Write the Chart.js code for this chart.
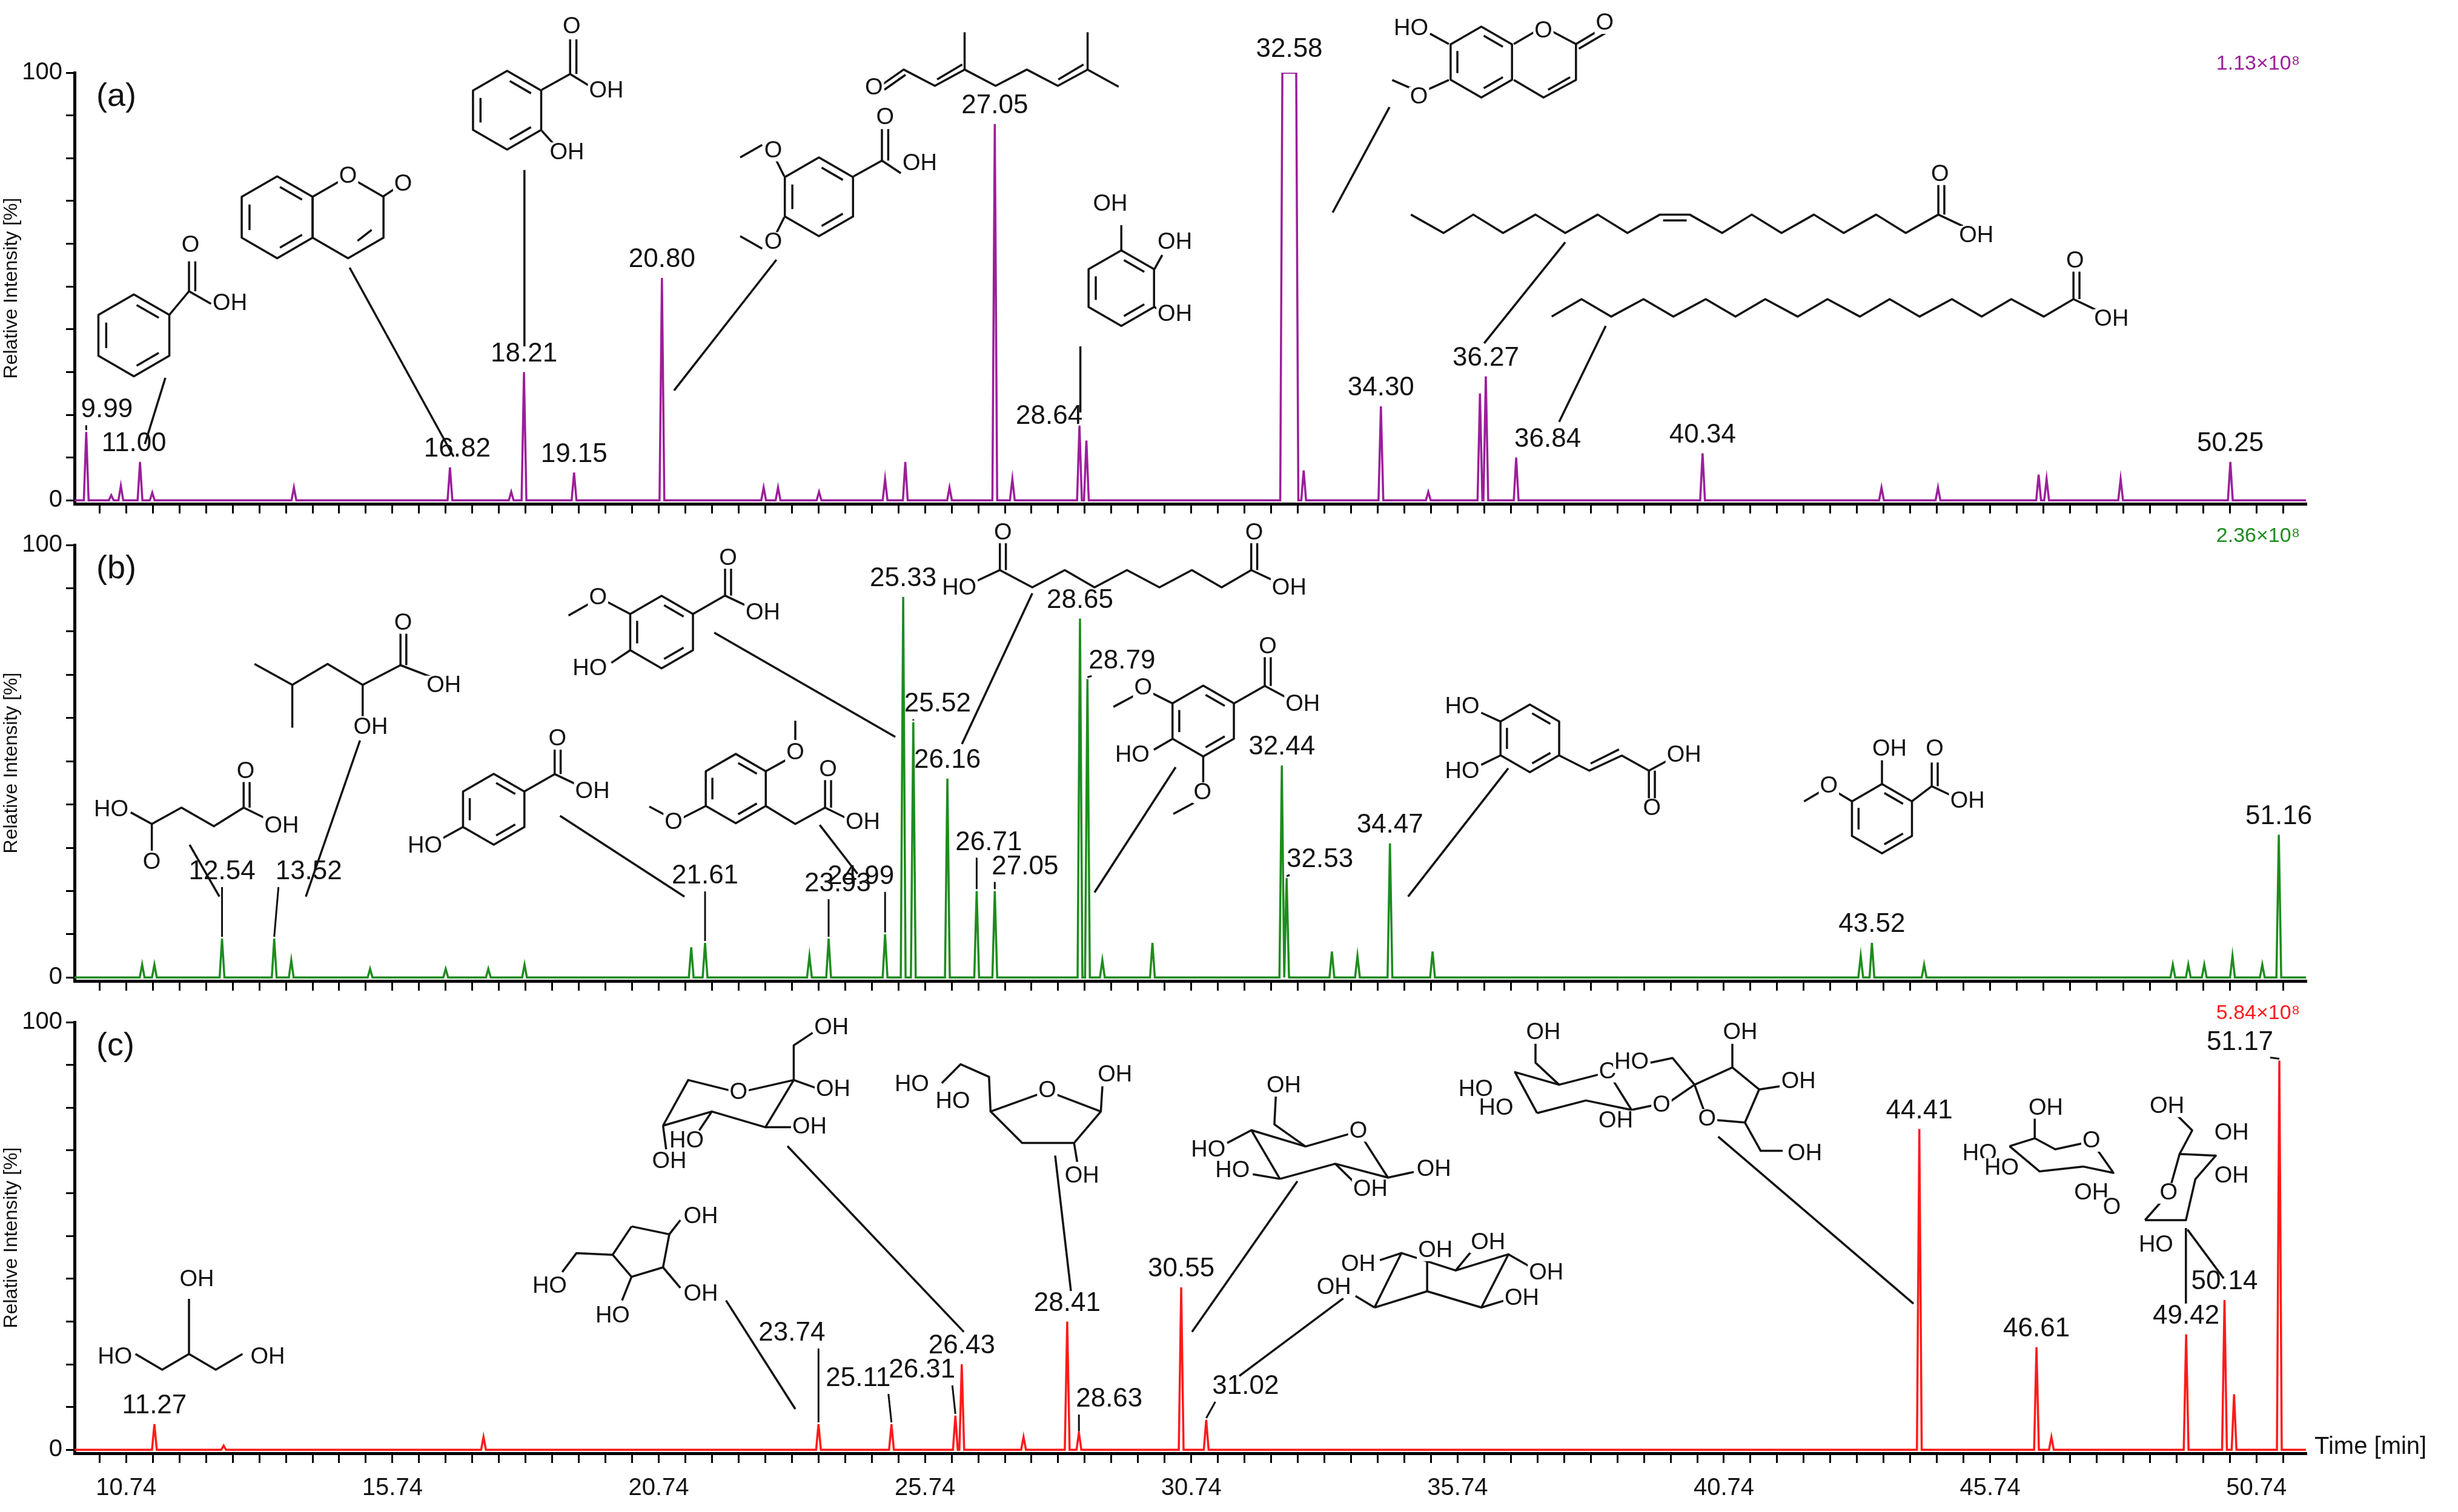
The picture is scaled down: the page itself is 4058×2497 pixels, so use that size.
<!DOCTYPE html>
<html><head><meta charset="utf-8">
<script src="https://cdn.jsdelivr.net/npm/chart.js@4/dist/chart.umd.min.js"></script>
<style>
html,body{margin:0;padding:0;background:#fff;}
canvas{position:absolute;left:0;top:0;}
</style></head><body>
<canvas id="ca" width="4058" height="2497"></canvas>
<canvas id="cb" width="4058" height="2497"></canvas>
<canvas id="cc" width="4058" height="2497"></canvas>
<script>
// ---- data ----
const tickStart = 10.74;
const tickLabelsX = ["10.74","15.74","20.74","25.74","30.74","35.74","40.74","45.74","50.74"];
const scaleFactors = ["1.13×10⁸","2.36×10⁸","5.84×10⁸"];
const panelNames = ["(a)","(b)","(c)"];

// panel (a): retention times and relative intensities
const aTimes   = [9.99,10.46,10.64,11.00,11.23,13.89,16.82,17.97,18.21,19.15,20.80,22.71,22.98,23.75,24.99,25.37,26.20,27.05,27.38,28.64,28.77,32.58,32.85,34.30,35.19,36.16,36.27,36.84,40.34,43.70,44.76,46.65,46.80,48.19,50.25];
const aHeights = [16,1.2,3.4,9,1.8,3,7.7,2,30,6.5,52,3,3,2,5,9,3,88,5,17.5,14,100,7,22,2,25,29,10,11,3,3,6,5,5,9];
const aLabels  = ["9.99","","","11.00","","","16.82","","18.21","19.15","20.80","","","","","","","27.05","","28.64","","32.58","","34.30","","","36.27","36.84","40.34","","","","","","50.25"];

// panel (b)
const bTimes   = [11.04,11.27,12.54,13.52,13.84,15.32,16.74,17.54,18.22,21.35,21.61,23.57,23.93,24.99,25.33,25.52,26.16,26.71,27.05,28.65,28.79,29.07,30.01,32.44,32.53,33.38,33.86,34.47,35.27,43.31,43.52,44.50,49.17,49.46,49.76,50.29,50.85,51.16];
const bHeights = [3,3,9,9,4,2,2,2,3,7,8,5,9,10,88,59,46,20,20,83,69,4,8,49,23,6,5,31,6,5,8,3,3,3,3,5,3,33];
const bLabels  = ["","","12.54","13.52","","","","","","","21.61","","23.93","24.99","25.33","25.52","26.16","26.71","27.05","28.65","28.79","","","32.44","32.53","","","34.47","","","43.52","","","","","","","51.16"];

// panel (c)
const cTimes   = [11.27,12.57,17.45,23.74,25.11,26.31,26.43,27.59,28.41,28.63,30.55,31.02,44.41,46.61,46.89,49.42,50.14,50.32,51.17];
const cHeights = [6,1,3,6,6,8,20,3,30,4,38,7,75,24,3,27,35,13,91];
const cLabels  = ["11.27","","","23.74","25.11","26.31","26.43","","28.41","28.63","30.55","31.02","44.41","46.61","","49.42","50.14","","51.17"];

// ---- layout / style ----
const W = 4058, H = 2497;
const plotLeft = 123, plotRight = 3807;
const XMIN = 9.77, XMAX = 51.67;
const FONT = "'Liberation Sans',Arial,sans-serif";
// label offsets [dx, dy, leader?] in px, per panel
const labelOffsets = [
  {"9.99":[34,-6,1],"11.00":[-10,0],"16.82":[12,0],"28.64":[-50,15],"36.84":[52,0],"32.58":[0,-8]},
  {"12.54":[0,-80,1],"13.52":[57,-80,1],"21.61":[0,-80,1],"23.93":[15,-60,1],"24.99":[-40,-65,1],"25.52":[40,0,1],"26.71":[20,-50,1],"27.05":[50,-10,1],"28.79":[57,0,1],"32.53":[55,0,1]},
  {"23.74":[-44,-120,1],"25.11":[-55,-45,1],"26.31":[-55,-45,1],"28.63":[50,-25,1],"31.02":[65,-25,1],"51.17":[-65,0,1]}
];
const panels = [
  {id:"ca", top:120, bottom:832, color:"#9b1f9b", times:aTimes, heights:aHeights, labels:aLabels},
  {id:"cb", top:900, bottom:1620, color:"#1e8c1e", times:bTimes, heights:bHeights, labels:bLabels},
  {id:"cc", top:1688, bottom:2400, color:"#ff1a1a", times:cTimes, heights:cHeights, labels:cLabels}
];

// ---- decorative chemical structure sketches (screen coords, scaled by S) ----
const S = 2.6;
const structures = [
 // (a)
 [['hex',85,213,26,-90,1],['l',[107.5,200,120,185]],['l',[120,185,120,166]],['l',[124,185,124,166]],['l',[120,185,134,193]],['t','O',121,156],['t','OH',146,193],['l',[105,240,92,282]],
  ['hex',176,138,26,-90,1],['hex',221,138,26,-90,0],['l',[227,153,236,146]],['t','O',221,112],['l',[243,125,252,119]],['t','O',256,117],['l',[222,170,288,290]],
  ['hex',322,70,25,-90,1],['l',[344,57,362,47]],['l',[362,47,362,25]],['l',[366,47,366,25]],['l',[362,47,375,55]],['t','O',363,17],['t','OH',385,58],['l',[344,83,352,92]],['t','OH',360,97],['l',[333,108,333,220]],
  ['hex',520,125,25,-90,1],['l',[498,112,493,102]],['t','O',491,96],['l',[484,92,470,100]],['l',[498,138,493,148]],['t','O',491,154],['l',[484,158,470,150]],['l',[542,112,560,102]],['l',[560,102,560,82]],['l',[564,102,564,82]],['l',[560,102,572,110]],['t','O',562,75],['t','OH',584,104],['l',[493,165,428,248]],
  ['t','O',554.9,55.8],['l',[560.1,53.8,573.8,44.2,593.6,54.5,612.5,44.2,632.2,54.5,652,44.2,671.7,54.5,690.6,44.2,710.3,55.1]],['l',[561.5,57,575,47.5]],['l',[595,50.5,611,41]],['l',[672,50.5,688,41]],['l',[612.5,44.2,612.5,20.5]],['l',[690.6,44.2,690.6,20.5]],
  ['hex',712,183,24,-90,1],['l',[712,159,712,143]],['t','OH',705,130],['l',[733,171,738,162]],['t','OH',746,154],['l',[733,195,738,198]],['t','OH',746,200],['l',[686,220,686,262]],
  ['hex',940.6,39.4,22.5,-90,1],['p',[961.2,28,980,17,1000.7,28,1000.7,50.8,980.1,61.9,961.2,50.8]],['l',[983,57,997,49]],['l',[1000.7,28,1017.9,17.7]],['l',[1002.5,31,1019.5,21]],['t','O',980,20],['t','O',1019,15],['l',[920,28,908,21.4]],['t','HO',896,18.4],['l',[920,50.8,904,58]],['t','O',901,61.9],['l',[898,57,884,50.8]],['l',[882.3,68,846.2,135]],
  ['l',[895.9,136.3,916.6,148,935.5,136.3,954.4,148,975,136.3,993.9,148,1014.5,136.3,1033.4,148,1054,136.3,1072.9,136.3,1093.5,148,1112.3,136.3,1131.2,148,1151.8,136.3,1170.7,148,1191.3,136.3,1210.1,148,1230.8,136.3,1230.8,116.4]],['l',[1234.6,136.3,1234.6,116.4]],['l',[1056,140,1071,140]],['l',[1230.8,136.3,1246.3,143.6]],['t','O',1231.8,111],['t','OH',1254.9,150],['l',[993.9,153.9,942.4,218]],
  ['l',[985.3,201.1,1004.2,190,1023,201.1,1043.6,190,1062.5,201.1,1083.1,190,1102,201.1,1120.9,190,1141.5,201.1,1160.4,190,1181,201.1,1199.9,190,1218.8,201.1,1239.4,190,1258.3,201.1,1277.1,190,1297.8,201.1,1316.6,190,1316.6,171]],['l',[1320.4,190,1320.4,171]],['l',[1316.6,190,1330.4,196.6]],['t','O',1317.6,166],['t','OH',1340.7,203],['l',[1019.6,207,990,268]]],
 // (b)
 [['l',[83,516,96.4,523.4,115.2,513,135.8,524.8,154.7,513,170,520.5]],['l',[96.4,523.4,96.4,540.3]],['l',[154.7,513,154.7,496]],['l',[158.5,513,158.5,496]],['t','HO',70.6,514.5],['t','O',96.4,547.7],['t','O',156,490.2],['t','OH',178.8,524.8],['l',[120.4,536.6,139.3,569.5]],
  ['l',[161.6,421.7,185.6,435,208,421.7,230.3,435,254.3,422.5,273.2,429.8]],['l',[185.6,435,185.6,462.2]],['l',[230.3,435,230.3,454.9]],['l',[254.3,422.5,254.3,401.8]],['l',[258,422.5,258,401.8]],['t','OH',235.4,462.2],['t','O',256,396],['t','OH',281.8,435.7],['l',[228.6,470.3,194.2,569.5]],
  ['hex',313.5,514,22.5,-90,1],['l',[333,502.7,352.2,491.7,352.2,475.5]],['l',[356,491.7,356,475.5]],['l',[352.2,491.7,367.6,499]],['t','O',354,469.6],['t','OH',376.2,502.7],['l',[294,525.3,280,533]],['t','HO',269.8,537.4],['l',[355.6,518.2,434.6,569.5]],
  ['hex',420.1,401.5,23,-90,1],['l',[440,390,460.4,378.3,460.4,357.6]],['l',[464.2,378.3,464.2,357.6]],['l',[460.4,378.3,475.8,385.6]],['t','O',462.3,354.7],['t','OH',484.4,389.3],['l',[400.2,390,385,382]],['t','O',379.7,379.7],['l',[375,383,361,391]],['l',[400.2,413,388.2,421]],['t','HO',374.5,424.7],['l',[453.5,401.8,568.5,468.1]],
  ['hex',467.2,500.9,22,-90,1],['l',[486.2,489.9,501.6,481.4]],['t','O',505,478.4],['l',[505,470,505,457.8]],['l',[448.2,511.9,432.9,519.7]],['t','O',427.7,522.6],['l',[423,518,412.3,512.3]],['l',[486.2,511.9,505,523.4,523.9,513,523.9,491.7]],['l',[527.7,513,527.7,491.7]],['l',[523.9,513,537.6,519.7]],['t','O',525.8,489],['t','OH',547.9,522.6],['l',[520.5,524,544.5,555]],
  ['l',[618,370,634.9,362.1,655.5,373.1,676.1,362.1,695,373.1,715.6,362.1,736.2,373.1,756.8,362.1,775.7,373.1,794.5,362.1,810,369.4]],['l',[634.9,362.1,634.9,344.4]],['l',[638.7,362.1,638.7,344.4]],['l',[794.5,362.1,794.5,344.4]],['l',[798.3,362.1,798.3,344.4]],['t','HO',609.1,373.8],['t','O',636.8,338.5],['t','O',796.4,338.5],['t','OH',818.6,373.8],['l',[655.5,376.8,610.8,472.6]],
  ['hex',764,458,22.5,-90,1],['l',[783.5,446.8,803.1,435.7,803.1,415.1]],['l',[806.9,435.7,806.9,415.1]],['l',[803.1,435.7,816.9,443.1]],['t','O',805,410.9],['t','OH',827.2,447.5],['l',[744.5,446.8,729,439]],['t','O',725.9,437.2],['l',[720,442,707,449]],['l',[744.5,469.3,732.7,476.2]],['t','HO',719,480],['l',[764,480.5,764,497.6]],['t','O',763.6,503.5],['l',[758,510,745,517]],['l',[746.5,487.3,695,566.8]],
  ['hex',971.4,469,21.5,-90,1],['l',[952.8,458.3,940.5,452.7]],['l',[952.8,479.8,940.5,485.8]],['t','HO',928.5,449],['t','HO',928.5,490.2],['l',[990,479.8,1009.2,489.5,1029.8,479.9,1047,489.5,1047,509.4]],['l',[1010,485,1028,476]],['l',[1050.8,489.5,1050.8,509.4]],['l',[1047,489.5,1060.7,482.1]],['t','O',1049,513.6],['t','OH',1069.3,479.9],['l',[957.7,488,894.1,569.5]],
  ['hex',1195,520,22,-90,1],['l',[1195,498,1195,482.9]],['t','OH',1199.8,476],['l',[1214,509,1226.6,499.4,1226.6,484.3]],['l',[1230.4,499.4,1230.4,484.3]],['l',[1226.6,499.4,1238.3,504.9]],['t','O',1228.5,476],['t','OH',1249.3,509],['l',[1176,509,1166,503]],['t','O',1161.3,499.4],['l',[1157.2,502.1,1145.5,509]]],
 // (c)
 [['t','HO',73,862],['l',[86,860,103,870,120,860,137,870,154,860]],['l',[120,860,120,825]],['t','OH',125,813],['t','OH',170,862],
  ['p',[401,779,425,784,421,805,401,811,389,797,401,779]],['l',[425,784,432,775]],['t','OH',445,773],['l',[389,797,366,796,357,808]],['t','HO',349,817],['l',[421,805,432,818]],['t','OH',445,822],['l',[401,811,395,826]],['t','HO',389,836],['l',[461,826,505,895]],
  ['p',[421,715,437,686,469,694,504,686,486,716,452,706,421,715]],['l',[504,686,504,664,516,656]],['t','OH',528,653],['l',[504,686,518,691]],['t','OH',529,692],['l',[486,716,503,716]],['t','OH',514,716],['l',[452,706,444,718]],['t','HO',436,725],['l',[421,715,423,730]],['t','OH',425,738],['t','O',469,694],['l',[500,728,612,846]],
  ['p',[665,693,699,706,682,726,649,726,629,706,665,693]],['t','O',665,693],['l',[629,706,628,684,610,676,598,688]],['t','HO',579,689],['t','HO',605,700],['l',[699,706,700,690]],['t','OH',708,683],['l',[682,726,684,738]],['t','OH',687,747],['l',[670,734,680,820]],
  ['p',[812.7,748.8,794.6,717.9,829,728.2,862.5,718.6,881.3,748,847.9,739.2,812.7,748.8]],['t','O',862.5,718.6],['l',[829,728.2,809.2,714.2,810.1,696.5]],['t','OH',815.2,689.9],['l',[794.6,717.9,779.2,726]],['t','HO',767.2,730.4],['l',[812.7,748.8,795.5,745.9]],['t','HO',782.6,743.6],['l',[847.9,739.2,859.9,751]],['t','OH',870.2,755.4],['l',[881.3,748,897.7,744.4]],['t','OH',910.5,742.9],['l',[823.8,750.3,756.9,846]],
  ['p',[872.8,830.5,889.9,795.9,924.3,807,957.8,796.7,940.6,830.5,906.2,820.2,872.8,830.5]],['l',[889.9,795.9,876.2,800.4]],['t','OH',862.5,803.3],['l',[872.8,830.5,860.7,823.2]],['t','OH',847,818],['l',[906.2,820.2,906.2,801]],['t','OH',911.4,794.5],['l',[924.3,807,934.6,794.5]],['t','OH',944.9,789.3],['l',[957.8,796.7,970.6,804]],['t','OH',981.8,808.5],['l',[940.6,830.5,955.2,826.1]],['t','OH',966.3,824.7],['l',[853,824.7,786.9,874]],
  ['p',[976,707,962,681,990,689,1021,681,1036,705,1007,699,976,707]],['t','O',1021,681],['l',[990,689,975,675,975,663]],['t','OH',980,656],['t','HO',937,692],['t','HO',950,704],['t','OH',1026,712],['l',[1036,705,1050,702]],['t','O',1055,702],['l',[1060,700,1076,689]],
  ['p',[1076,689,1100,678,1117,692,1108,713,1084,711,1076,689]],['t','O',1084,711],['l',[1076,689,1062,672,1048,675]],['t','HO',1036,675],['l',[1100,678,1100,663]],['t','OH',1105,656],['l',[1117,692,1130,690]],['t','OH',1142,687],['l',[1108,713,1118,731,1132,731]],['t','OH',1146,733],['l',[1091,722,1215,828]],
  ['p',[1276,728,1292,723,1305,730,1328,725,1342,745,1323,741,1295,744,1276,728]],['t','O',1328,725],['l',[1292,723,1292,709]],['t','OH',1299,704],['t','HO',1257,733],['t','HO',1271,742],['t','OH',1328,758],['t','O',1341,767],
  ['p',[1362,775,1377,758,1384,733,1407,734,1394,749,1388,775,1362,775]],['t','O',1377,758],['l',[1384,733,1392,718,1382,708]],['t','OH',1376,703],['t','OH',1417,720],['t','OH',1417,747],['t','HO',1369,791],['l',[1388,780,1388,828]],['l',[1389,781,1412,812]]]
];

function drawStructures(ctx, list){
  ctx.save();
  ctx.strokeStyle='#111'; ctx.fillStyle='#111'; ctx.lineWidth=3.5; ctx.lineJoin='round';
  ctx.font = "38px " + FONT; ctx.textAlign='center'; ctx.textBaseline='middle';
  const poly=(cx,cy,r,n,rot)=>{const v=[];for(let k=0;k<n;k++){const a=(rot+k*360/n)*Math.PI/180;v.push([cx+r*Math.cos(a),cy+r*Math.sin(a)]);}return v;};
  list.forEach(op=>{
    if(op[0]==='hex'){
      const v = poly(op[1]*S,op[2]*S,op[3]*S,6,op[4]);
      ctx.beginPath(); v.forEach((p,i)=>i?ctx.lineTo(p[0],p[1]):ctx.moveTo(p[0],p[1])); ctx.closePath(); ctx.stroke();
      if(op[5]){ const vi=poly(op[1]*S,op[2]*S,op[3]*S*0.78,6,op[4]);
        for(let k=0;k<6;k+=2){ const a=vi[k],b=vi[(k+1)%6]; const sa=[a[0]+(b[0]-a[0])*0.1,a[1]+(b[1]-a[1])*0.1], sb=[a[0]+(b[0]-a[0])*0.9,a[1]+(b[1]-a[1])*0.9];
          ctx.beginPath(); ctx.moveTo(sa[0],sa[1]); ctx.lineTo(sb[0],sb[1]); ctx.stroke(); } }
    } else if(op[0]==='l' || op[0]==='p'){
      const c=op[1]; ctx.beginPath(); ctx.moveTo(c[0]*S,c[1]*S); for(let k=2;k<c.length;k+=2) ctx.lineTo(c[k]*S,c[k+1]*S); ctx.stroke();
    }
  });
  list.forEach(op=>{
    if(op[0]==='t'){
      const w = ctx.measureText(op[1]).width;
      ctx.fillStyle='#fff'; ctx.fillRect(op[2]*S-w/2-2, op[3]*S-17, w+4, 34);
      ctx.fillStyle='#111'; ctx.fillText(op[1], op[2]*S, op[3]*S);
    }
  });
  ctx.restore();
}

function buildTrace(times, heights){
  const pts = [{x:XMIN,y:0}];
  const w = 0.045;
  times.forEach((t,i)=>{
    const h = heights[i];
    if (h >= 100){ // saturated, flat-topped peak
      pts.push({x:t-0.17,y:0},{x:t-0.13,y:100},{x:t+0.13,y:100},{x:t+0.17,y:0});
    } else {
      pts.push({x:t-w,y:0},{x:t,y:h},{x:t+w,y:0});
    }
  });
  pts.push({x:XMAX,y:0});
  return pts;
}

const xTickVals = [];
for (let v = tickStart - 1.0; v <= XMAX; v += 0.5) if (v >= XMIN) xTickVals.push(+v.toFixed(2));

panels.forEach((p, idx)=>{
  const xh = idx===2 ? 110 : 40;
  const labelPlugin = {
    id:'peaklabels'+idx,
    afterDatasetsDraw(chart){
      const ctx = chart.ctx, xs = chart.scales.x, ys = chart.scales.y;
      drawStructures(ctx, structures[idx]);
      ctx.save();
      ctx.fillStyle = '#111'; ctx.strokeStyle='#111'; ctx.lineWidth=3;
      ctx.font = "44px " + FONT;
      ctx.textAlign = 'center'; ctx.textBaseline = 'bottom';
      p.labels.forEach((lab,i)=>{
        if(!lab) return;
        const off = labelOffsets[idx][lab] || [0,0];
        const ax = xs.getPixelForValue(p.times[i]);
        const ay = ys.getPixelForValue(Math.min(p.heights[i],100));
        const px = ax + off[0];
        const py = ay - 8 + off[1];
        ctx.fillText(lab, px, py);
        if(off[2]){
          const sx = px + Math.max(-50, Math.min(50, ax-px));
          ctx.beginPath(); ctx.moveTo(sx, py+3); ctx.lineTo(ax, ay-3); ctx.stroke();
        }
      });
      ctx.font = "54px " + FONT;
      ctx.textAlign='left'; ctx.textBaseline='middle';
      ctx.fillText(panelNames[idx], chart.chartArea.left+36, chart.chartArea.top+40);
      ctx.font = "34px " + FONT;
      ctx.fillStyle = p.color; ctx.textAlign='right';
      ctx.fillText(scaleFactors[idx], chart.chartArea.right-10, chart.chartArea.top-14);
      if (idx===2){
        ctx.fillStyle='#111'; ctx.font = "40px " + FONT; ctx.textAlign='left';
        ctx.fillText("Time [min]", chart.chartArea.right+14, chart.chartArea.bottom-10);
      }
      ctx.restore();
    }
  };
  new Chart(document.getElementById(p.id), {
    type:'line',
    data:{datasets:[{data:buildTrace(p.times,p.heights), borderColor:p.color, borderWidth:3.5, pointRadius:0, tension:0, fill:false}]},
    options:{
      responsive:false, animation:false, devicePixelRatio:1,
      layout:{padding:{left:0, right:W-plotRight, top:p.top, bottom:H-p.bottom-xh}},
      plugins:{legend:{display:false}, tooltip:{enabled:false}},
      scales:{
        x:{type:'linear', min:XMIN, max:XMAX,
          afterBuildTicks(s){ s.ticks = xTickVals.map(v=>({value:v})); },
          afterFit(s){ s.height = xh; },
          border:{display:true, color:'#000', width:5},
          grid:{drawOnChartArea:false, drawTicks:true, tickLength:16, color:'#000', lineWidth:3},
          ticks:{autoSkip:false, maxRotation:0, padding:18, color:'#111', font:{size:40, family:FONT},
            display: idx===2,
            callback:(v)=>{ const d=((v-tickStart)%5+5)%5; return (d<0.01||d>4.99) ? (tickLabelsX[Math.round((v-tickStart)/5)]||'') : ''; }}
        },
        y:{min:-0.8, max:100,
          afterBuildTicks(s){ s.ticks=[0,10,20,30,40,50,60,70,80,90,100].map(v=>({value:v})); },
          afterFit(s){ s.width = plotLeft; },
          border:{display:true, color:'#000', width:5},
          grid:{drawOnChartArea:false, tickLength:14, color:'#000', lineWidth:3},
          ticks:{padding:6, color:'#111', font:{size:40, family:FONT}, callback:(v)=> (v===0||v===100)? String(v):''},
          title:{display:true, text:'Relative Intensity [%]', color:'#111', font:{size:32, family:FONT}, padding:{top:0,bottom:4}}
        }
      }
    },
    plugins:[labelPlugin]
  });
});
</script>
</body></html>
